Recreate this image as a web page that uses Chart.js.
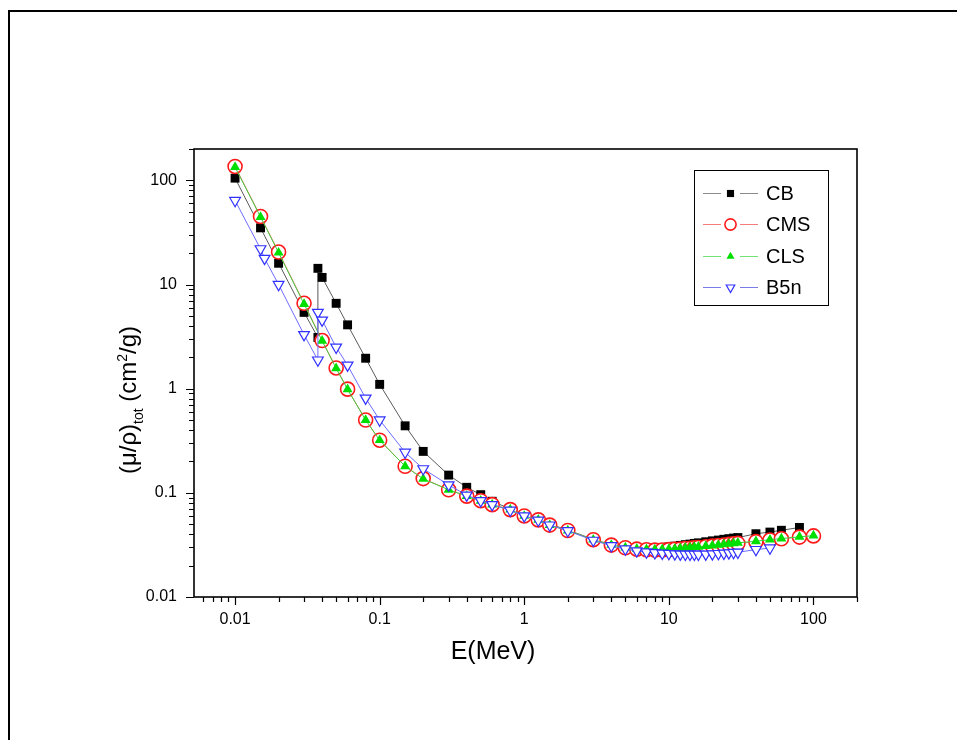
<!DOCTYPE html>
<html lang="en">
<head>
  <meta charset="UTF-8">
  <title>Total mass attenuation coefficient</title>
  <script src="https://cdn.jsdelivr.net/npm/chart.js"></script>
  <style>
    body {
      margin: 0;
      background: #fff;
      overflow: hidden;
      font-family: "Liberation Sans", Arial, sans-serif;
    }

    /* outer page frame, only top and left edges show */
    .frame {
      position: absolute;
      left: 8px;
      top: 10px;
      width: 960px;
      height: 740px;
      border-left: 2px solid #000;
      border-top: 2px solid #000;
    }

    .chart-box {
      position: absolute;
      left: 0;
      top: 0;
      width: 957px;
      height: 740px;
    }
  </style>
</head>
<body>
  <div class="frame"></div>
  <div class="chart-box">
    <canvas id="muChart" width="957" height="740"></canvas>
  </div>

  <script>
    // energies (MeV) and (mu/rho)tot values (cm2/g)
    const cmsEnergy = [0.01, 0.015, 0.02, 0.03, 0.04, 0.05, 0.06, 0.08, 0.1, 0.15, 0.2, 0.3, 0.4, 0.5, 0.6, 0.8, 1, 1.25, 1.5, 2,
      3, 4, 5, 6, 7, 8, 9, 10, 11, 12, 13, 14, 15, 16, 18, 20, 22, 24, 26, 28, 30, 40, 50, 60, 80, 100];
    const cmsValues = [136, 45, 20.5, 6.6, 2.9, 1.58, 0.99, 0.5, 0.32, 0.18, 0.137, 0.107, 0.093, 0.084, 0.077, 0.069, 0.060, 0.055, 0.049, 0.0435,
      0.0355, 0.0315, 0.0297, 0.0288, 0.0284, 0.0282, 0.0283, 0.0285, 0.0287, 0.0289, 0.0292, 0.0294, 0.0297, 0.0299, 0.0304, 0.0308, 0.0312, 0.0316, 0.0320, 0.0324,
      0.0327, 0.0340, 0.0352, 0.0362, 0.0376, 0.0386];
    const clsValues = [134, 44.5, 20.2, 6.5, 2.88, 1.57, 0.985, 0.5, 0.32, 0.18, 0.136, 0.107, 0.093, 0.084, 0.077, 0.069, 0.060, 0.055, 0.049, 0.0435,
      0.0355, 0.0316, 0.0298, 0.0290, 0.0287, 0.0286, 0.0287, 0.0289, 0.0291, 0.0293, 0.0296, 0.0298, 0.0301, 0.0303, 0.0308, 0.0312, 0.0316, 0.0320, 0.0324, 0.0328,
      0.0331, 0.0343, 0.0355, 0.0364, 0.0378, 0.0388];

    const cbEnergy = [0.01, 0.015, 0.02, 0.03, 0.0374, 0.0374, 0.04, 0.05, 0.06, 0.08, 0.1, 0.15, 0.2, 0.3, 0.4, 0.5, 0.6, 0.8, 1, 1.25,
      1.5, 2, 3, 4, 5, 6, 7, 8, 9, 10, 11, 12, 13, 14, 15, 16, 18, 20, 22, 24, 26, 28, 30, 40, 50, 60, 80];
    const cbValues = [105, 35, 16, 5.4, 3.1, 14.3, 11.7, 6.6, 4.1, 1.96, 1.1, 0.44, 0.25, 0.148, 0.113, 0.096, 0.083, 0.070, 0.0615, 0.0555,
      0.0500, 0.0440, 0.0358, 0.0318, 0.0301, 0.0294, 0.0294, 0.0296, 0.0299, 0.0303, 0.0308, 0.0313, 0.0318, 0.0322, 0.0327, 0.0331, 0.0339, 0.0346, 0.0352, 0.0358,
      0.0363, 0.0368, 0.0372, 0.0405, 0.0420, 0.0437, 0.0465];

    const b5nEnergy = [0.01, 0.015, 0.016, 0.02, 0.03, 0.0374, 0.0374, 0.04, 0.05, 0.06, 0.08, 0.1, 0.15, 0.2, 0.3, 0.4, 0.5, 0.6, 0.8, 1,
      1.25, 1.5, 2, 3, 4, 5, 6, 7, 8, 9, 10, 11, 12, 13, 14, 15, 16, 18, 20, 22, 24, 26, 28, 30, 40, 50];
    const b5nValues = [64, 22, 17.8, 10, 3.3, 1.88, 5.4, 4.55, 2.5, 1.68, 0.81, 0.50, 0.245, 0.17, 0.119, 0.095, 0.084, 0.077, 0.068, 0.060,
      0.0545, 0.049, 0.0432, 0.035, 0.031, 0.0289, 0.0277, 0.0270, 0.0266, 0.0263, 0.0261, 0.0259, 0.0258, 0.0257, 0.0257, 0.0257, 0.0257, 0.0258, 0.0259, 0.0261,
      0.0263, 0.0265, 0.0267, 0.0269, 0.0285, 0.0295];

    const seriesNames = ['CB', 'CMS', 'CLS', 'B5n'];
    const xTickLabels = ['0.01', '0.1', '1', '10', '100'];
    const yTickLabels = ['0.01', '0.1', '1', '10', '100'];

    const FONT = '"Liberation Sans", Arial, sans-serif';
    // legend lines are paler than the data lines
    const legendLineColors = ['#8a8a8a', '#f47c7c', '#72e272', '#7a7ae8'];

    function toPoints(xs, ys) {
      return xs.map((x, i) => ({ x: x, y: ys[i] }));
    }

    // label only the decades, using the tick label lists
    function decadeLabel(list) {
      return function (value) {
        const exp = Math.log10(value);
        const r = Math.round(exp);
        if (Math.abs(exp - r) > 1e-6) return '';
        return list[r + 2] || '';
      };
    }

    // frame, tick marks, axis titles and the boxed legend
    const decorPlugin = {
      id: 'decor',
      afterDraw(chart) {
        const ctx = chart.ctx;
        const area = chart.chartArea;
        const xs = chart.scales.x;
        const ys = chart.scales.y;

        ctx.save();
        ctx.strokeStyle = '#000';
        ctx.lineWidth = 1.6;
        ctx.strokeRect(area.left, area.top, area.right - area.left, area.bottom - area.top);

        // outward ticks, long on decades and short in between
        ctx.lineWidth = 1.2;
        ctx.beginPath();
        for (let d = -3; d <= 2; d++) {
          for (let m = 1; m <= 9; m++) {
            const v = m * Math.pow(10, d);
            const len = m === 1 ? 8 : 5;
            if (v >= xs.min && v <= xs.max) {
              const px = Math.round(xs.getPixelForValue(v)) + 0.5;
              ctx.moveTo(px, area.bottom);
              ctx.lineTo(px, area.bottom + len);
            }
            if (v >= ys.min && v <= ys.max) {
              const py = Math.round(ys.getPixelForValue(v)) + 0.5;
              ctx.moveTo(area.left, py);
              ctx.lineTo(area.left - len, py);
            }
          }
        }
        ctx.stroke();

        // x title
        ctx.fillStyle = '#000';
        ctx.font = '25px ' + FONT;
        ctx.textAlign = 'center';
        ctx.textBaseline = 'middle';
        ctx.fillText('E(MeV)', 493, 652);

        // y title with subscript and superscript
        ctx.save();
        ctx.translate(128, 400);
        ctx.rotate(-Math.PI / 2);
        const parts = [
          { t: '(\u03bc/\u03c1)', size: 24, dy: 0 },
          { t: 'tot', size: 14, dy: 7 },
          { t: ' (cm', size: 24, dy: 0 },
          { t: '2', size: 14, dy: -9 },
          { t: '/g)', size: 24, dy: 0 }
        ];
        let total = 0;
        parts.forEach(p => {
          ctx.font = p.size + 'px ' + FONT;
          p.w = ctx.measureText(p.t).width;
          total += p.w;
        });
        let cx = -total / 2;
        ctx.textAlign = 'left';
        ctx.textBaseline = 'alphabetic';
        parts.forEach(p => {
          ctx.font = p.size + 'px ' + FONT;
          ctx.fillText(p.t, cx, 8 + p.dy);
          cx += p.w;
        });
        ctx.restore();

        // legend box
        ctx.lineWidth = 1;
        ctx.strokeStyle = '#000';
        ctx.strokeRect(694.5, 170.5, 134, 135);
        ctx.font = '20px ' + FONT;
        ctx.textAlign = 'left';
        ctx.textBaseline = 'middle';
        chart.data.datasets.forEach((ds, i) => {
          const y = Math.round(193 + i * 31.3) + 0.5;
          ctx.strokeStyle = legendLineColors[i];
          ctx.lineWidth = 1;
          ctx.beginPath();
          ctx.moveTo(703, y);
          ctx.lineTo(721, y);
          ctx.moveTo(740, y);
          ctx.lineTo(758, y);
          ctx.stroke();
          ctx.fillStyle = ds.pointBackgroundColor;
          ctx.strokeStyle = ds.pointBorderColor;
          ctx.lineWidth = ds.pointBorderWidth;
          Chart.helpers.drawPoint(ctx, {
            pointStyle: ds.pointStyle,
            rotation: ds.pointRotation || 0,
            radius: ds.pointRadius * 0.8,
            borderWidth: ds.pointBorderWidth
          }, 730.5, y);
          ctx.fillStyle = '#000';
          ctx.fillText(ds.label, 766, y + 1);
        });
        ctx.restore();
      }
    };

    const ctx = document.getElementById('muChart').getContext('2d');
    const muChart = new Chart(ctx, {
      type: 'scatter',
      data: {
        datasets: [{
          label: seriesNames[0],
          data: toPoints(cbEnergy, cbValues),
          showLine: true,
          borderColor: '#5a5a5a',
          borderWidth: 1,
          pointStyle: 'rect',
          pointRadius: 6.3,
          pointBackgroundColor: '#000',
          pointBorderColor: '#000',
          pointBorderWidth: 0,
          order: 4
        }, {
          label: seriesNames[1],
          data: toPoints(cmsEnergy, cmsValues),
          showLine: true,
          borderColor: '#ff6a6a',
          borderWidth: 1,
          pointStyle: 'circle',
          pointRadius: 7,
          pointBackgroundColor: '#fff',
          pointBorderColor: '#ff1a1a',
          pointBorderWidth: 1.6,
          order: 3
        }, {
          label: seriesNames[2],
          data: toPoints(cmsEnergy, clsValues),
          showLine: true,
          borderColor: '#3fd03f',
          borderWidth: 1,
          pointStyle: 'triangle',
          pointRadius: 5.8,
          pointBackgroundColor: '#00e000',
          pointBorderColor: '#00d000',
          pointBorderWidth: 0,
          order: 2
        }, {
          label: seriesNames[3],
          data: toPoints(b5nEnergy, b5nValues),
          showLine: true,
          borderColor: '#6c6cff',
          borderWidth: 1,
          pointStyle: 'triangle',
          pointRotation: 180,
          pointRadius: 6.2,
          pointBackgroundColor: '#fff',
          pointBorderColor: '#3030ff',
          pointBorderWidth: 1.2,
          order: 1
        }]
      },
      options: {
        responsive: false,
        animation: false,
        devicePixelRatio: 1,
        layout: {
          padding: { top: 149, right: 100, left: 0, bottom: 0 }
        },
        plugins: {
          legend: { display: false },
          tooltip: { enabled: false }
        },
        scales: {
          x: {
            type: 'logarithmic',
            position: 'bottom',
            min: 0.0052,
            max: 200,
            border: { display: false },
            grid: { display: true, drawOnChartArea: false, drawTicks: true, tickLength: 8, color: 'rgba(0,0,0,0)' },
            ticks: {
              autoSkip: false,
              maxRotation: 0,
              minRotation: 0,
              padding: 5,
              color: '#000',
              font: { size: 16, family: FONT },
              callback: decadeLabel(xTickLabels)
            },
            afterFit(scale) { scale.height = 143; }
          },
          y: {
            type: 'logarithmic',
            position: 'left',
            min: 0.01,
            max: 200,
            border: { display: false },
            grid: { display: true, drawOnChartArea: false, drawTicks: true, tickLength: 8, color: 'rgba(0,0,0,0)' },
            ticks: {
              autoSkip: false,
              padding: 9,
              color: '#000',
              font: { size: 16, family: FONT },
              callback: decadeLabel(yTickLabels)
            },
            afterFit(scale) { scale.width = 194; }
          }
        }
      },
      plugins: [decorPlugin]
    });
  </script>
</body>
</html>
